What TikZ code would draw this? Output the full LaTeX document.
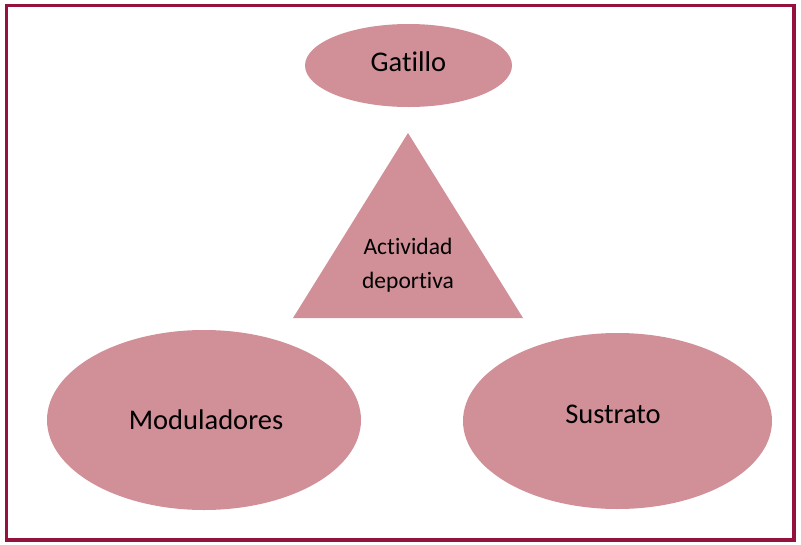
\documentclass[tikz,border=0pt]{standalone}
\usepackage{fontspec}
\setmainfont{Carlito}[Ligatures={NoCommon}]
\usetikzlibrary{shapes.geometric}
\definecolor{fillpink}{RGB}{209,143,152}
\definecolor{framered}{RGB}{150,18,62}
\begin{document}
\begin{tikzpicture}[x=1pt,y=-1pt,
  blob/.style={ellipse, fill=fillpink, inner sep=0pt},
  lbl/.style={font=\fontsize{28.5}{30}\selectfont, text=black}]
\useasboundingbox (0,0) rectangle (801,544);
\draw[framered, line width=3.5pt] (6.5,5.5) rectangle (794,540);
\node[blob, minimum width=207pt, minimum height=83pt] (gat) at (408.5,65.5) {};
\node[lbl] at (408.5,62) {Gatillo};
\coordinate (apex) at (408,133);
\coordinate (bl) at (293,318);
\coordinate (br) at (523,318);
\fill[fillpink] (apex) -- (bl) -- (br) -- cycle;
\node[align=center, font=\fontsize{23.5}{34}\selectfont] (act) at (408,265) {Actividad\\deportiva};
\node[blob, minimum width=314pt, minimum height=180pt] (mod) at (204,420) {};
\node[lbl] at (206,420) {Moduladores};
\node[blob, minimum width=309pt, minimum height=176pt] (sus) at (617.5,421) {};
\node[lbl] at (613,414) {Sustrato};
\end{tikzpicture}
\end{document}
